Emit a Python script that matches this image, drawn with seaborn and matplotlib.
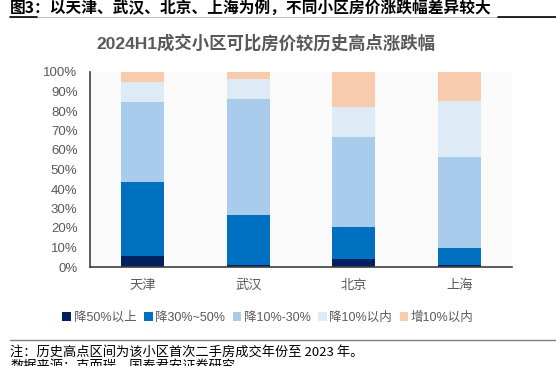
import pandas as pd
import seaborn as sns
import matplotlib.pyplot as plt
from matplotlib.patches import Patch
from matplotlib.lines import Line2D

cities = ["天津", "武汉", "北京", "上海"]
series = ["降50%以上", "降30%~50%", "降10%-30%", "降10%以内", "增10%以内"]
drop50 = [5.7, 0.9, 4.0, 1.0]
drop30_50 = [38.0, 25.7, 16.6, 9.0]
drop10_30 = [40.9, 59.8, 46.3, 46.6]
drop10 = [10.1, 10.1, 15.3, 28.6]
rise10 = [5.3, 3.5, 17.8, 14.8]
colors = ["#002060", "#0070C0", "#A9CCEC", "#DDEBF7", "#F8CBAD"]

sns.set_style("white")
plt.rcParams["font.family"] = ["Liberation Sans", "Noto Sans CJK SC", "DejaVu Sans"]
cjk = ["Noto Sans CJK SC", "DejaVu Sans"]

df = pd.DataFrame({"city": cities})
layers = [drop50, drop30_50, drop10_30, drop10, rise10]
cum = [0] * len(cities)
for name, vals in zip(series, layers):
    cum = [a + b for a, b in zip(cum, vals)]
    df[name] = cum

fig = plt.figure(figsize=(5.56, 3.66), dpi=100)
ax = fig.add_axes([90 / 556, 1 - 267 / 366, 422 / 556, 195 / 366])
ax.set_facecolor("#FAFAFA")

# stack by overdrawing cumulative totals, top layer first
for name, c in reversed(list(zip(series, colors))):
    sns.barplot(data=df, x="city", y=name, color=c, width=0.41, ax=ax,
                saturation=1, linewidth=0)

ax.set_xlim(-0.5, 3.5)
ax.set_ylim(0, 100)
ax.set_yticks(range(0, 101, 10))
ax.set_yticklabels([f"{v}%" for v in range(0, 101, 10)])
ax.set_xlabel("")
ax.set_ylabel("")
ax.tick_params(axis="y", length=0, labelsize=9.5, labelcolor="#595959", pad=9)
ax.tick_params(axis="x", which="major", length=0, labelsize=9.5, labelcolor="#595959", pad=9)
ax.set_xticks([0.5, 1.5, 2.5, 3.5], minor=True)
ax.tick_params(axis="x", which="minor", direction="in", length=3, color="#404040", width=1)
for s in ["top", "right"]:
    ax.spines[s].set_visible(False)
for s in ["left", "bottom"]:
    ax.spines[s].set_color("#404040")
    ax.spines[s].set_linewidth(1.2)

handles = [Patch(facecolor=c, edgecolor="none") for c in colors]
fig.legend(handles, series, loc="center", bbox_to_anchor=(268 / 556, 1 - 318 / 366), ncol=5,
           frameon=False, handlelength=0.7, handleheight=0.7, handletextpad=0.2,
           columnspacing=0.6, fontsize=9, labelcolor="#595959")

fig.text(266 / 556, 1 - 43 / 366, "2024H1成交小区可比房价较历史高点涨跌幅", ha="center", va="center",
         fontsize=12.5, weight="bold", color="#595959")
fig.text(10 / 556, 1 - 8 / 366, "图3：以天津、武汉、北京、上海为例，不同小区房价涨跌幅差异较大",
         ha="left", va="center", fontsize=11.3, weight="bold", color="black", family=cjk)
fig.add_artist(Line2D([10 / 556, 1], [1 - 17 / 366] * 2, color="#C0C0C0", lw=0.8))
fig.add_artist(Line2D([10 / 556, 37 / 556], [1 - 17 / 366] * 2, color="black", lw=1.2))
fig.add_artist(Line2D([498 / 556, 1], [1 - 17 / 366] * 2, color="black", lw=1.2))
fig.add_artist(Line2D([10 / 556, 1], [1 - 339.5 / 366] * 2, color="#808080", lw=1))

fig.text(10 / 556, 1 - 352 / 366, "注：历史高点区间为该小区首次二手房成交年份至 2023 年。",
         ha="left", va="center", fontsize=9.5, color="black", family=cjk)
fig.text(10 / 556, 1 - 361 / 366, "数据来源：克而瑞，国泰君安证券研究",
         ha="left", va="top", fontsize=9.5, color="black", family=cjk)

fig.savefig("out.png", dpi=100)
